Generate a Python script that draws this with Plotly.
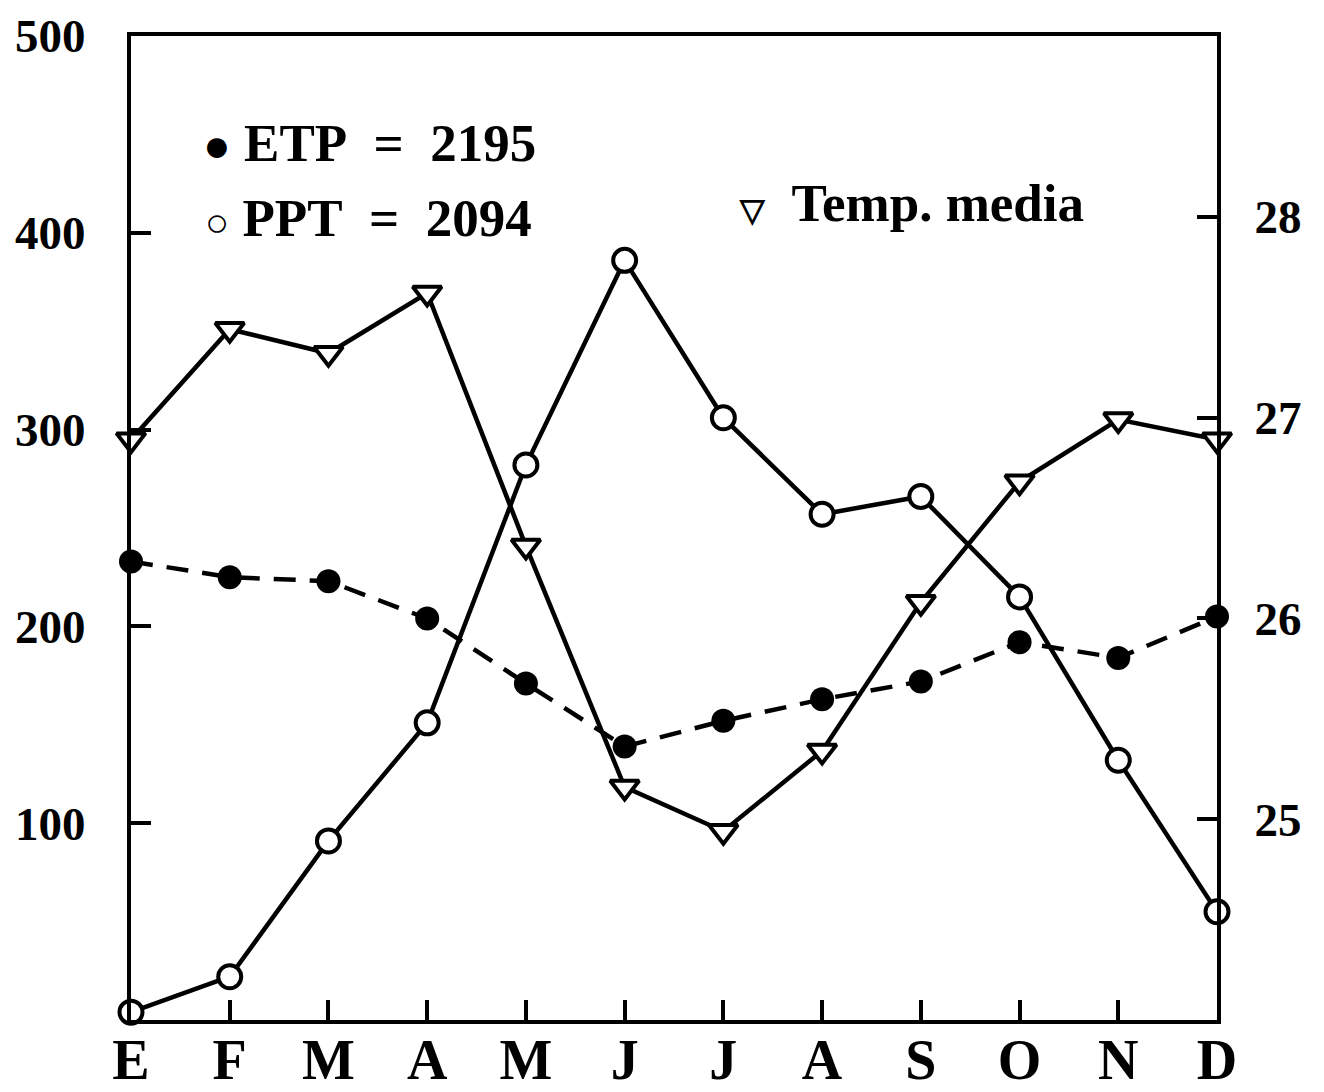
import plotly.graph_objects as go

months = ["E", "F", "M", "A", "M", "J", "J", "A", "S", "O", "N", "D"]
etp = [233, 225, 223, 204, 171, 139, 152, 163, 172, 192, 184, 205]
ppt = [4, 22, 91, 151, 282, 386, 306, 257, 266, 215, 132, 55]
temp = [26.89, 27.44, 27.32, 27.62, 26.36, 25.16, 24.94, 25.34, 26.08, 26.68, 26.99, 26.89]
left_ticks = [100, 200, 300, 400, 500]
right_ticks = [25, 26, 27, 28]
legend_etp = "ETP\u00a0\u00a0=\u00a0\u00a02195"
legend_ppt = "PPT\u00a0\u00a0=\u00a0\u00a02094"
legend_temp = "Temp. media"

x = list(range(len(months)))
FONT = "Liberation Serif, Times New Roman, serif"

fig = go.Figure()
fig.add_trace(go.Scatter(
    x=x, y=etp, mode="lines+markers", cliponaxis=False,
    line=dict(color="black", width=4.5, dash="22px,14px"),
    marker=dict(symbol="circle", size=24, color="black"),
    showlegend=False))
fig.add_trace(go.Scatter(
    x=x, y=ppt, mode="lines+markers", cliponaxis=False,
    line=dict(color="black", width=4.5),
    marker=dict(symbol="circle", size=23, color="white",
                line=dict(color="black", width=4)),
    showlegend=False))
fig.add_trace(go.Scatter(
    x=x, y=temp, mode="lines+markers", cliponaxis=False, yaxis="y2",
    line=dict(color="black", width=4.5),
    marker=dict(symbol="triangle-down", size=25, color="white",
                line=dict(color="black", width=4)),
    showlegend=False))

tickfont = dict(family=FONT, size=47, color="black", weight="bold")
legfont = dict(family=FONT, size=53, color="black", weight="bold")

fig.update_layout(
    width=1316, height=1084,
    margin=dict(l=123, r=107, t=28, b=72),
    paper_bgcolor="white", plot_bgcolor="white",
    xaxis=dict(
        range=[0, 11], tickvals=x, ticktext=months,
        ticks="inside", ticklen=20, tickwidth=4, tickcolor="black",
        showline=True, linewidth=4, linecolor="black", mirror=True,
        showgrid=False, zeroline=False, automargin=False,
        tickfont=dict(family=FONT, size=56, color="black", weight="bold"),
        ticklabelstandoff=-12, ticklabeloverflow="allow",
    ),
    yaxis=dict(
        range=[0, 500], tickvals=left_ticks,
        ticks="inside", ticklen=20, tickwidth=4, tickcolor="black",
        showline=True, linewidth=4, linecolor="black",
        showgrid=False, zeroline=False, automargin=False,
        tickfont=tickfont, ticklabelstandoff=32, ticklabeloverflow="allow",
    ),
    yaxis2=dict(
        range=[24, 28.9], tickvals=right_ticks, overlaying="y", side="right",
        ticks="inside", ticklen=20, tickwidth=4, tickcolor="black",
        showline=True, linewidth=4, linecolor="black",
        showgrid=False, zeroline=False, automargin=False,
        tickfont=tickfont, ticklabelstandoff=24, ticklabeloverflow="allow",
    ),
    annotations=[
        dict(xref="paper", yref="paper", x=0.064, y=0.891, xanchor="left", yanchor="middle",
             text="<span style='font-size:46px'>\u25cf</span>\u00a0" + legend_etp,
             showarrow=False, font=legfont),
        dict(xref="paper", yref="paper", x=0.066, y=0.815, xanchor="left", yanchor="middle",
             text="<span style='font-size:40px'>\u25cb</span>\u00a0" + legend_ppt,
             showarrow=False, font=legfont),
        dict(xref="paper", yref="paper", x=0.558, y=0.83, xanchor="left", yanchor="middle",
             text="<span style='font-size:32px'>\u25bd</span>\u00a0\u00a0" + legend_temp,
             showarrow=False, font=legfont),
    ],
)

fig.write_html("out.html")
